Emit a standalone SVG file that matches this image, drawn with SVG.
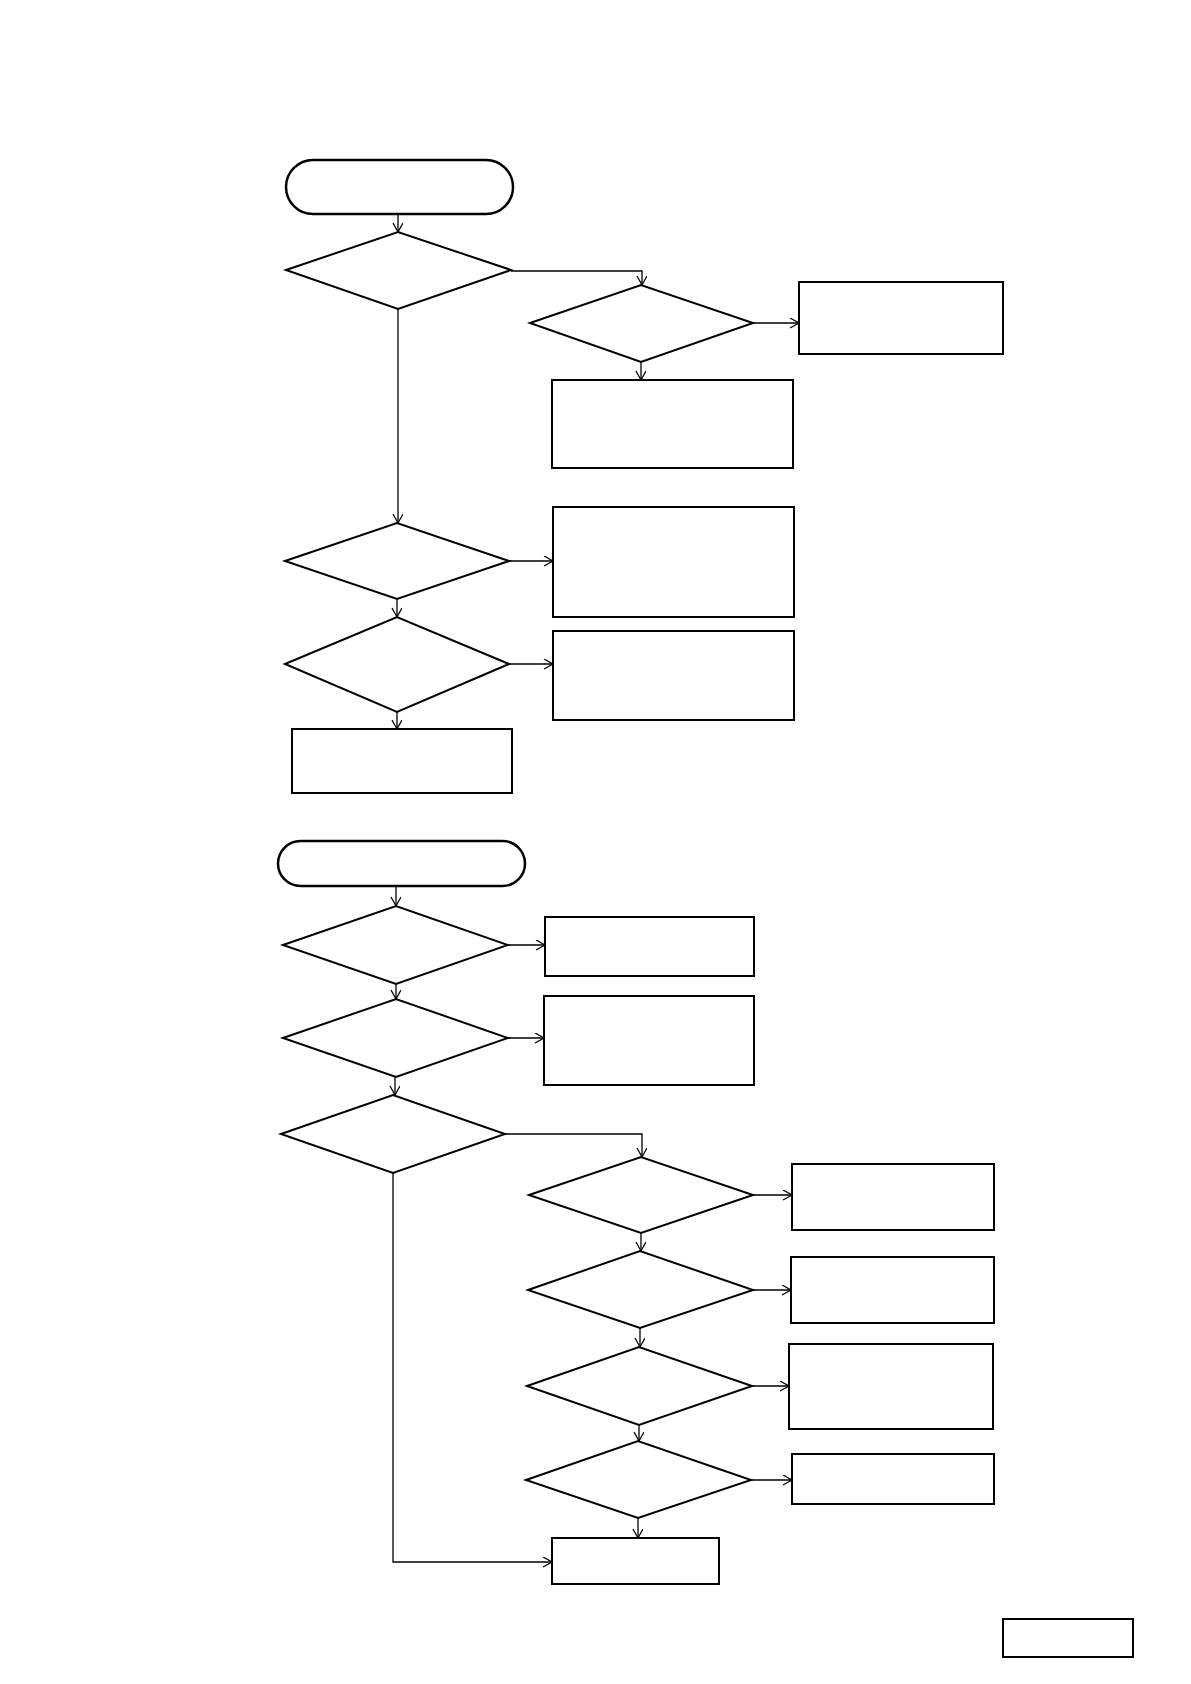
<svg xmlns="http://www.w3.org/2000/svg" width="1191" height="1684" viewBox="0 0 1191 1684">
<style>
.s{fill:#fff;stroke:#000;stroke-width:2}
.t{fill:#fff;stroke:#000;stroke-width:2.5}
.c{fill:none;stroke:#000;stroke-width:1.3;marker-end:url(#a)}
</style>
<defs><marker id="a" markerWidth="12" markerHeight="12" refX="10" refY="5" orient="auto" markerUnits="userSpaceOnUse"><path d="M1,0 L10,5 L1,10" fill="none" stroke="#000" stroke-width="1.3"/></marker></defs>
<rect width="1191" height="1684" fill="#fff"/>
<g id="connectors">
<path class="c" d="M398,214 V232"/>
<path class="c" d="M511,271 H642 V285"/>
<path class="c" d="M753,323 H799"/>
<path class="c" d="M641,362 V380"/>
<path class="c" d="M398,309 V523"/>
<path class="c" d="M509,561 H553"/>
<path class="c" d="M397,599 V617"/>
<path class="c" d="M509,664 H553"/>
<path class="c" d="M397,712 V729"/>
<path class="c" d="M396,886 V906"/>
<path class="c" d="M508,945 H545"/>
<path class="c" d="M396,984 V999"/>
<path class="c" d="M508,1038 H544"/>
<path class="c" d="M395,1077 V1095"/>
<path class="c" d="M505,1134 H642 V1157"/>
<path class="c" d="M753,1195 H792"/>
<path class="c" d="M641,1233 V1251"/>
<path class="c" d="M753,1290 H791"/>
<path class="c" d="M640,1328 V1347"/>
<path class="c" d="M752,1386 H789"/>
<path class="c" d="M639,1425 V1441"/>
<path class="c" d="M751,1480 H792"/>
<path class="c" d="M638,1518 V1538"/>
<path class="c" d="M393,1173 V1562 H552"/>
</g>
<g id="start1"><rect class="t" x="286" y="160" width="227" height="54" rx="27"/></g>
<g id="d1"><polygon class="s" points="286,270 398,232 511,270 398,309"/></g>
<g id="d2"><polygon class="s" points="530,323 641,285 753,323 641,362"/></g>
<g id="r1"><rect class="s" x="799" y="282" width="204" height="72"/></g>
<g id="r2"><rect class="s" x="552" y="380" width="241" height="88"/></g>
<g id="d3"><polygon class="s" points="285,561 397,523 509,561 397,599"/></g>
<g id="r3"><rect class="s" x="553" y="507" width="241" height="110"/></g>
<g id="d4"><polygon class="s" points="285,664 397,617 509,664 397,712"/></g>
<g id="r4"><rect class="s" x="553" y="631" width="241" height="89"/></g>
<g id="r5"><rect class="s" x="292" y="729" width="220" height="64"/></g>
<g id="start2"><rect class="t" x="278" y="841" width="247" height="45" rx="22.5"/></g>
<g id="d5"><polygon class="s" points="283,945 396,906 508,945 396,984"/></g>
<g id="r6"><rect class="s" x="545" y="917" width="209" height="59"/></g>
<g id="d6"><polygon class="s" points="283,1038 396,999 508,1038 396,1077"/></g>
<g id="r7"><rect class="s" x="544" y="996" width="210" height="89"/></g>
<g id="d7"><polygon class="s" points="281,1134 393,1095 505,1134 393,1173"/></g>
<g id="d8"><polygon class="s" points="529,1195 641,1157 753,1195 641,1233"/></g>
<g id="r8"><rect class="s" x="792" y="1164" width="202" height="66"/></g>
<g id="d9"><polygon class="s" points="528,1290 640,1251 753,1290 640,1328"/></g>
<g id="r9"><rect class="s" x="791" y="1257" width="203" height="66"/></g>
<g id="d10"><polygon class="s" points="527,1386 639,1347 752,1386 639,1425"/></g>
<g id="r10"><rect class="s" x="789" y="1344" width="204" height="85"/></g>
<g id="d11"><polygon class="s" points="526,1480 638,1441 751,1480 638,1518"/></g>
<g id="r11"><rect class="s" x="792" y="1454" width="202" height="50"/></g>
<g id="r12"><rect class="s" x="552" y="1538" width="167" height="46"/></g>
<g id="r13"><rect class="s" x="1003" y="1619" width="130" height="38"/></g>
</svg>
